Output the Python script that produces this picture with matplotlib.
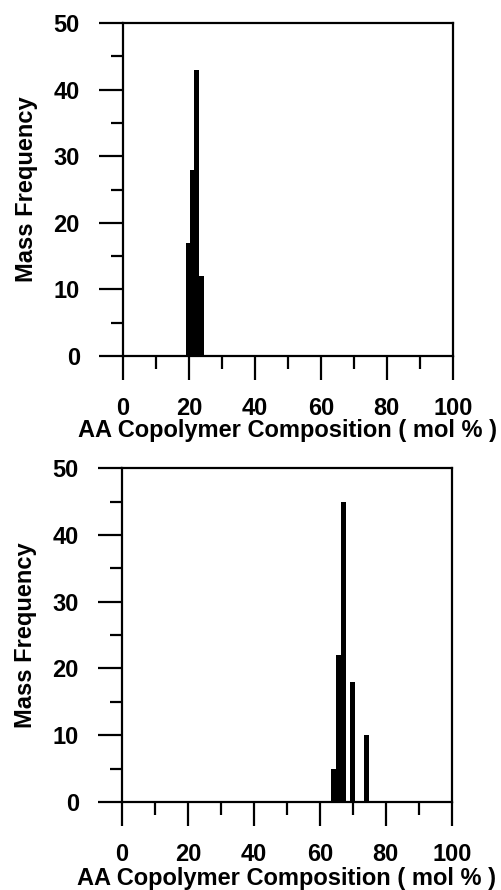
import matplotlib.pyplot as plt
from matplotlib.ticker import MultipleLocator

plt.rcParams['font.family'] = ['Liberation Sans', 'DejaVu Sans']
plt.rcParams['font.weight'] = 'bold'

# top panel: low AA copolymer
comp_a = [20.0, 21.0, 22.2, 23.8]
freq_a = [17, 28, 43, 12]

# bottom panel: high AA copolymer
comp_b = [64.1, 65.7, 67.2, 69.9, 74.1]
freq_b = [5, 22, 45, 18, 10]

xlabel = "AA Copolymer Composition ( mol % )"
ylabel = "Mass Frequency"

fig = plt.figure(figsize=(5.02, 8.90), dpi=100)
ax1 = fig.add_axes([0.245, 0.600, 0.657, 0.374])
ax2 = fig.add_axes([0.243, 0.099, 0.657, 0.375])

for ax, x, y, xpad in [(ax1, comp_a, freq_a, -1.0), (ax2, comp_b, freq_b, 0.5)]:
    ax.bar(x, y, width=1.6, color='black', align='center')
    ax.set_xlim(0, 100)
    ax.set_ylim(0, 50)
    ax.xaxis.set_major_locator(MultipleLocator(20))
    ax.xaxis.set_minor_locator(MultipleLocator(10))
    ax.yaxis.set_major_locator(MultipleLocator(10))
    ax.yaxis.set_minor_locator(MultipleLocator(5))
    ax.tick_params(which='major', direction='out', length=17, width=1.6,
                   labelsize=17, pad=14)
    ax.tick_params(axis='x', which='major', pad=12.5)
    ax.tick_params(which='minor', direction='out', length=9, width=1.6)
    for s in ax.spines.values():
        s.set_linewidth(1.6)
    for lab in ax.get_xticklabels() + ax.get_yticklabels():
        lab.set_fontweight('bold')
    ax.set_xlabel(xlabel, fontsize=17, fontweight='bold', labelpad=xpad)
    ax.set_ylabel(ylabel, fontsize=17, fontweight='bold', labelpad=11)

fig.savefig('out.png', dpi=100)
